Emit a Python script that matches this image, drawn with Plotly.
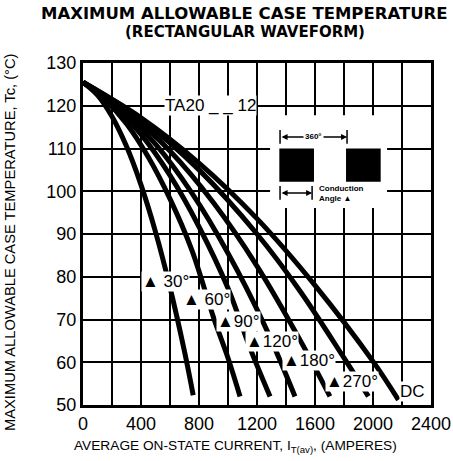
import plotly.graph_objects as go

# ---- data ----
I_30 = [0, 100, 200, 300, 400, 500, 600, 700, 760]
T_30 = [125.5, 122.5, 117.5, 110.5, 101.5, 90.5, 77.5, 62.5, 52.3]

I_60 = [0, 150, 300, 450, 600, 750, 900, 1000, 1083]
T_60 = [125.5, 121.5, 115.8, 108.0, 98.2, 86.3, 70.5, 61.0, 52.0]

I_90 = [0, 200, 400, 600, 800, 1000, 1150, 1290]
T_90 = [125.5, 120.5, 113.3, 103.7, 91.7, 77.3, 63.5, 52.0]

I_120 = [0, 250, 500, 750, 1000, 1250, 1462]
T_120 = [125.5, 119.5, 111.0, 99.6, 85.5, 68.8, 52.0]

I_180 = [0, 300, 600, 900, 1200, 1500, 1703]
T_180 = [125.5, 118.7, 109.4, 97.3, 82.5, 65.0, 52.0]

I_270 = [0, 400, 800, 1200, 1500, 1800, 1968]
T_270 = [125.5, 116.8, 105.0, 90.0, 76.5, 61.0, 52.0]

I_DC = [0, 400, 800, 1200, 1600, 2000, 2175]
T_DC = [125.5, 117.2, 106.6, 93.6, 78.0, 60.2, 51.2]

curve_names = ["30°", "60°", "90°", "120°", "180°", "270°", "DC"]
curve_I = [I_30, I_60, I_90, I_120, I_180, I_270, I_DC]
curve_T = [T_30, T_60, T_90, T_120, T_180, T_270, T_DC]

label_text = ["▲ 30°", "▲ 60°", "▲90°", "▲120°", "▲180°", "▲270°", "DC"]
label_I = [566, 855, 1070, 1305, 1559, 1853, 2272]
label_T = [78.8, 74.6, 69.5, 64.8, 60.5, 55.4, 53.1]

x_grid = [0, 200, 400, 600, 800, 1000, 1200, 1400, 1600, 1800, 2000, 2200, 2400]
x_labels = ["0", "", "400", "", "800", "", "1200", "", "1600", "", "2000", "", "2400"]
y_ticks = [50, 60, 70, 80, 90, 100, 110, 120, 130]

X_RANGE = [0, 2400]
Y_RANGE = [50, 130]

FONT = "Liberation Sans, Arial, sans-serif"
TFONT = "DejaVu Sans, sans-serif"

fig = go.Figure()
for name, xs, ys in zip(curve_names, curve_I, curve_T):
    fig.add_trace(go.Scatter(x=xs, y=ys, mode="lines", name=name,
                             line=dict(color="black", width=5, shape="spline", smoothing=1.0),
                             showlegend=False, hoverinfo="skip"))

annotations = []
for t, xi, yi in zip(label_text, label_I, label_T):
    annotations.append(dict(x=xi, y=yi, xref="x", yref="y", text=t, showarrow=False,
                            font=dict(family=FONT, size=17, color="black"),
                            bgcolor="white", borderpad=0, xanchor="center", yanchor="middle"))

# part-number label on the 120 grid line
annotations.append(dict(x=876, y=120, xref="x", yref="y", text="TA20 _ _ 12", showarrow=False,
                        font=dict(family=FONT, size=17, color="black"),
                        bgcolor="white", borderpad=0, xanchor="center", yanchor="middle"))

# inset: arrows and texts
annotations.append(dict(x=1821, y=112.7, ax=1359, ay=112.7, xref="x", yref="y", axref="x", ayref="y",
                        text="", showarrow=True, arrowhead=2, arrowside="end+start",
                        arrowwidth=1.5, arrowsize=0.8, arrowcolor="black"))
annotations.append(dict(x=1590, y=112.7, xref="x", yref="y", text="<b>360°</b>", showarrow=False,
                        font=dict(family=FONT, size=8, color="black"),
                        bgcolor="white", borderpad=1, xanchor="center", yanchor="middle"))
annotations.append(dict(x=1580, y=99.6, ax=1359, ay=99.6, xref="x", yref="y", axref="x", ayref="y",
                        text="", showarrow=True, arrowhead=2, arrowside="end+start",
                        arrowwidth=1.5, arrowsize=0.8, arrowcolor="black"))
annotations.append(dict(x=1615, y=99.5, xref="x", yref="y", text="<b>Conduction<br>Angle ▲</b>",
                        showarrow=False, align="left",
                        font=dict(family=FONT, size=8, color="black"),
                        xanchor="left", yanchor="middle"))

# titles
annotations.append(dict(x=0.4655, y=(405 - 14) / 342, xref="paper", yref="paper",
                        text="<b>MAXIMUM ALLOWABLE CASE TEMPERATURE</b>", showarrow=False,
                        font=dict(family=TFONT, size=16.5, color="black"), borderpad=0,
                        xanchor="center", yanchor="middle"))
annotations.append(dict(x=0.4655, y=(405 - 32.5) / 342, xref="paper", yref="paper",
                        text="<b>(RECTANGULAR WAVEFORM)</b>", showarrow=False,
                        font=dict(family=TFONT, size=15, color="black"), borderpad=0,
                        xanchor="center", yanchor="middle"))
annotations.append(dict(x=(10 - 83) / 348, y=(405 - 243) / 342, xref="paper", yref="paper",
                        text="MAXIMUM ALLOWABLE CASE TEMPERATURE, Tc, (°C)", showarrow=False,
                        textangle=-90, font=dict(family=FONT, size=14.7, color="black"),
                        xanchor="center", yanchor="middle"))
annotations.append(dict(x=(235 - 83) / 348, y=(405 - 446) / 342, xref="paper", yref="paper",
                        text="AVERAGE ON-STATE CURRENT, I<sub>T(av)</sub>, (AMPERES)", showarrow=False,
                        font=dict(family=FONT, size=13.7, color="black"),
                        xanchor="center", yanchor="middle"))

shapes = [
    # white box clearing the grid behind the inset
    dict(type="rect", xref="x", yref="y", x0=1290, x1=2097, y0=96.1, y1=117.8,
         fillcolor="white", line=dict(width=0), layer="above"),
    # waveform blocks
    dict(type="rect", xref="x", yref="y", x0=1354, x1=1593, y0=102.2, y1=110.0,
         fillcolor="black", line=dict(width=0), layer="above"),
    dict(type="rect", xref="x", yref="y", x0=1814, x1=2053, y0=102.2, y1=110.0,
         fillcolor="black", line=dict(width=0), layer="above"),
    # end bars for arrows
    dict(type="line", xref="x", yref="y", x0=1359, x1=1359, y0=111.1, y1=114.3,
         line=dict(color="black", width=1.5), layer="above"),
    dict(type="line", xref="x", yref="y", x0=1821, x1=1821, y0=111.1, y1=114.3,
         line=dict(color="black", width=1.5), layer="above"),
    dict(type="line", xref="x", yref="y", x0=1359, x1=1359, y0=98.0, y1=101.2,
         line=dict(color="black", width=1.5), layer="above"),
    dict(type="line", xref="x", yref="y", x0=1580, x1=1580, y0=98.0, y1=101.2,
         line=dict(color="black", width=1.5), layer="above"),
]

axis_common = dict(showgrid=True, gridcolor="black", gridwidth=2,
                   showline=True, linecolor="black", linewidth=3, mirror=True,
                   ticks="", zeroline=False,
                   tickfont=dict(family=FONT, size=18, color="black"))

fig.update_layout(
    template="none",
    width=453, height=461,
    margin=dict(l=83, r=22, t=63, b=56, autoexpand=False),
    paper_bgcolor="white", plot_bgcolor="white",
    xaxis=dict(range=X_RANGE, tickmode="array", tickvals=x_grid, ticktext=x_labels,
               **axis_common),
    yaxis=dict(range=Y_RANGE, tickmode="array", tickvals=y_ticks, **axis_common),
    annotations=annotations,
    shapes=shapes,
)

fig.write_html("out.html", config={"displayModeBar": False},
               post_script="document.body.style.margin='0px';document.body.style.overflow='hidden';")
